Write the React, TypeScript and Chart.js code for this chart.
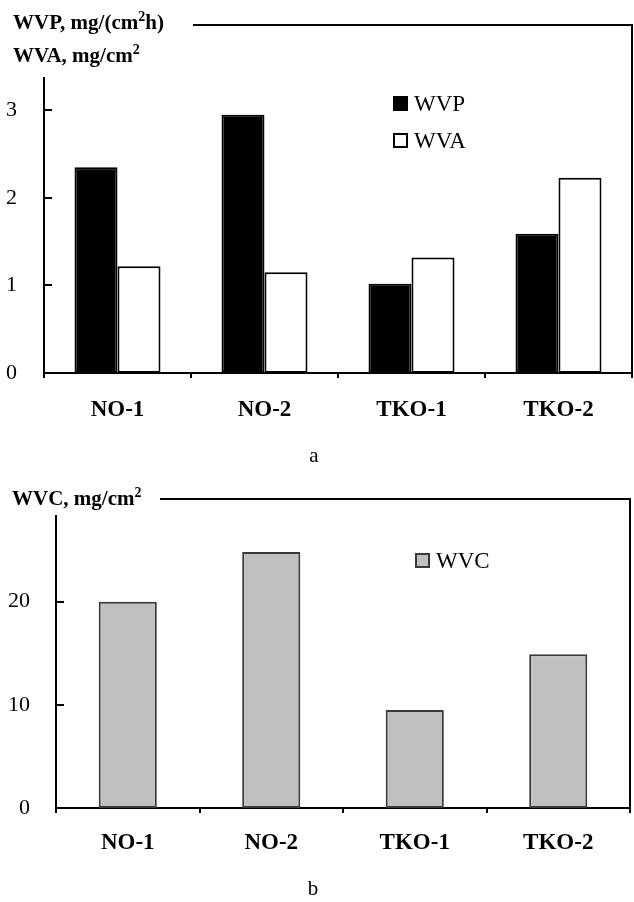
import React, { useEffect, useRef } from 'react';
import { Chart, registerables } from 'chart.js';
Chart.register(...registerables);

const categories = ['NO-1', 'NO-2', 'TKO-1', 'TKO-2'];
const wvpValues = [2.35, 2.95, 1.02, 1.59];
const wvaValues = [1.22, 1.15, 1.32, 2.23];
const wvcValues = [20.0, 24.8, 9.5, 14.9];
const topYTicks = [0, 1, 2, 3];
const bottomYTicks = [0, 10, 20];

const SERIF = '"Liberation Serif", "Times New Roman", Times, serif';

type Part = { t: string; sup?: boolean };

function drawRich(ctx: CanvasRenderingContext2D, parts: Part[], x: number, y: number, size: number) {
  let cx = x;
  for (const p of parts) {
    const s = p.sup ? Math.round(size * 0.66) : size;
    ctx.font = `bold ${s}px ${SERIF}`;
    ctx.fillText(p.t, cx, p.sup ? y - size * 0.36 : y);
    cx += ctx.measureText(p.t).width;
  }
}

const decorPlugin = {
  id: 'decor',
  afterDraw(chart: any, _args: any, opts: any) {
    const ctx: CanvasRenderingContext2D = chart.ctx;
    const area = chart.chartArea;
    const y = chart.scales.y;
    ctx.save();
    ctx.strokeStyle = '#000';
    ctx.lineWidth = 2;
    ctx.beginPath();
    ctx.moveTo(opts.frameStartX, opts.frameY);
    ctx.lineTo(area.right, opts.frameY);
    ctx.lineTo(area.right, area.bottom);
    ctx.stroke();
    for (const t of y.ticks) {
      if (t.value === 0) continue;
      const py = Math.round(y.getPixelForValue(t.value));
      ctx.beginPath();
      ctx.moveTo(area.left, py);
      ctx.lineTo(area.left + 8, py);
      ctx.stroke();
    }
    ctx.fillStyle = '#000';
    ctx.textAlign = 'left';
    ctx.textBaseline = 'alphabetic';
    opts.titleLines.forEach((line: Part[], i: number) => drawRich(ctx, line, opts.titleX, opts.titleY[i], 21));
    chart.data.datasets.forEach((ds: any, i: number) => {
      const bx = opts.legendX;
      const by = opts.legendY + i * opts.legendGap;
      ctx.fillStyle = ds.backgroundColor;
      ctx.fillRect(bx, by, 15, 15);
      ctx.strokeStyle = ds.borderColor;
      ctx.lineWidth = 2;
      ctx.strokeRect(bx + 1, by + 1, 13, 13);
      ctx.fillStyle = '#000';
      ctx.font = `23px ${SERIF}`;
      ctx.textAlign = 'left';
      ctx.textBaseline = 'alphabetic';
      ctx.fillText(ds.label, bx + 21, by + 15);
    });
    ctx.textAlign = 'center';
    ctx.textBaseline = 'middle';
    ctx.font = `21px ${SERIF}`;
    ctx.fillText(opts.caption, opts.captionX, opts.captionY);
    ctx.restore();
  },
};

function makeConfig(p: any): any {
  return {
    type: 'bar',
    data: { labels: categories, datasets: p.datasets },
    options: {
      animation: false,
      responsive: false,
      devicePixelRatio: 1,
      layout: { padding: { left: 0, right: p.padRight, top: p.padTop, bottom: 0 } },
      datasets: { bar: { barPercentage: 1, categoryPercentage: p.catPct, borderSkipped: false } },
      plugins: {
        legend: { display: false },
        tooltip: { enabled: false },
        decor: p.decor,
      },
      scales: {
        x: {
          grid: { display: true, drawOnChartArea: false, drawTicks: true, tickLength: 5, color: '#000', lineWidth: 2, offset: true },
          border: { display: true, color: '#000', width: 2 },
          ticks: { color: '#000', font: { family: SERIF, size: 23, weight: 'bold' }, padding: p.xPad, maxRotation: 0 },
          afterFit: (s: any) => { s.height = p.xHeight; },
        },
        y: {
          min: 0,
          max: p.yMax,
          grid: { display: false },
          border: { display: true, color: '#000', width: 2 },
          ticks: { color: '#000', font: { family: SERIF, size: 22 }, padding: p.yPad },
          afterBuildTicks: (s: any) => { s.ticks = p.yTicks.map((v: number) => ({ value: v })); },
          afterFit: (s: any) => { s.width = p.yWidth; },
        },
      },
    },
    plugins: [decorPlugin],
  };
}

function ChartCanvas({ config, width, height }: { config: any; width: number; height: number }) {
  const ref = useRef<HTMLCanvasElement>(null);
  useEffect(() => {
    if (!ref.current) return;
    const c = new Chart(ref.current, config);
    return () => c.destroy();
  }, []);
  return <canvas ref={ref} width={width} height={height} style={{ display: 'block', width, height }} />;
}

const TOP_H = 475;

export default function App() {
  const topConfig = makeConfig({
    datasets: [
      { label: 'WVP', data: wvpValues, backgroundColor: '#000000', borderColor: '#000000', borderWidth: 2 },
      { label: 'WVA', data: wvaValues, backgroundColor: '#ffffff', borderColor: '#000000', borderWidth: 2 },
    ],
    padRight: 2,
    padTop: 78,
    catPct: 0.585,
    xPad: 18,
    xHeight: TOP_H - 373,
    yMax: 3.37,
    yTicks: topYTicks,
    yPad: 19,
    yWidth: 44,
    decor: {
      frameStartX: 193,
      frameY: 25,
      titleX: 13,
      titleY: [29, 62],
      titleLines: [
        [{ t: 'WVP, mg/(cm' }, { t: '2', sup: true }, { t: 'h)' }],
        [{ t: 'WVA, mg/cm' }, { t: '2', sup: true }],
      ],
      legendX: 393,
      legendY: 96,
      legendGap: 37,
      caption: 'a',
      captionX: 314,
      captionY: 456,
    },
  });
  const bottomConfig = makeConfig({
    datasets: [
      { label: 'WVC', data: wvcValues, backgroundColor: '#c0c0c0', borderColor: '#3a3a3a', borderWidth: 2 },
    ],
    padRight: 4,
    padTop: 516 - TOP_H,
    catPct: 0.405,
    xPad: 16,
    xHeight: 902 - 808,
    yMax: 28.3,
    yTicks: bottomYTicks,
    yPad: 18,
    yWidth: 56,
    decor: {
      frameStartX: 160,
      frameY: 499 - TOP_H,
      titleX: 12,
      titleY: [505 - TOP_H],
      titleLines: [[{ t: 'WVC, mg/cm' }, { t: '2', sup: true }]],
      legendX: 415,
      legendY: 553 - TOP_H,
      legendGap: 37,
      caption: 'b',
      captionX: 313,
      captionY: 889 - TOP_H,
    },
  });
  return (
    <div style={{ position: 'absolute', left: 0, top: 0, width: 634, height: 902, background: '#fff' }}>
      <div style={{ position: 'absolute', left: 0, top: 0 }}>
        <ChartCanvas config={topConfig} width={634} height={TOP_H} />
      </div>
      <div style={{ position: 'absolute', left: 0, top: TOP_H }}>
        <ChartCanvas config={bottomConfig} width={634} height={902 - TOP_H} />
      </div>
    </div>
  );
}
